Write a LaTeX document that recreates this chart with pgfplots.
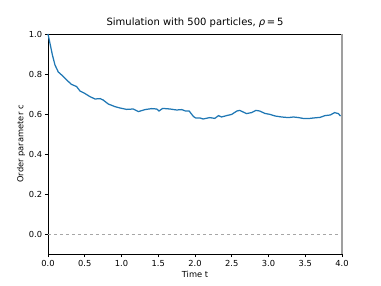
\documentclass[border=0pt]{standalone}
\usepackage{pgfplots}
\pgfplotsset{compat=1.18}
\usepackage{fontspec}
\setmainfont{DejaVu Sans}
\definecolor{mplblue}{HTML}{1F77B4}
\begin{document}
\fontsize{8.3bp}{10bp}\selectfont
\begin{tikzpicture}[x=1bp,y=1bp]
\path[use as bounding box] (-48bp,-32bp) rectangle (333bp,254bp);
\begin{axis}[
  at={(0,0)}, anchor=south west,
  scale only axis, width=294bp, height=220bp,
  xmin=0, xmax=4, ymin=-0.1, ymax=1.0,
  xtick={0,0.5,...,4}, ytick={0,0.2,...,1.0},
  /pgf/number format/assume math mode=true,
  /pgf/number format/fixed, /pgf/number format/fixed zerofill, /pgf/number format/precision=1,
  tick style={black, line width=0.6bp},
  tick align=outside, major tick length=3bp,
  xtick pos=bottom, ytick pos=left,
  axis line style={black, line width=0.6bp},
  tick label style={font=\fontsize{8.3bp}{10bp}\selectfont},
  xlabel={Time t}, ylabel={Order parameter c},
  label style={font=\fontsize{8.3bp}{10bp}\selectfont},
  xlabel style={yshift=1bp},
  ylabel style={yshift=-2bp},
  title={Simulation with 500 particles, {\itshape ρ}\,=\,5},
  title style={font=\fontsize{10bp}{12bp}\selectfont, yshift=-3bp},
  clip=false,
]
\addplot[gray!70, dashed, line width=0.5bp, forget plot] coordinates {(0,0) (4,0)};
\addplot[gray!75, line width=1.6bp, forget plot] coordinates {(4,-0.1) (4,1.0)};
\addplot[mplblue, line width=1.25bp] coordinates {
(0,1.0) (0.027,0.953) (0.06,0.895) (0.095,0.845) (0.14,0.81) (0.186,0.795)
(0.254,0.77) (0.32,0.748) (0.39,0.737) (0.435,0.715) (0.5,0.703) (0.57,0.687)
(0.64,0.675) (0.71,0.677) (0.75,0.67) (0.82,0.65) (0.91,0.637) (0.98,0.63)
(1.07,0.623) (1.16,0.625) (1.23,0.612) (1.32,0.622) (1.41,0.627) (1.48,0.625)
(1.51,0.615) (1.56,0.628) (1.66,0.625) (1.75,0.62) (1.82,0.622) (1.87,0.615)
(1.92,0.615) (1.98,0.587) (2.01,0.58) (2.07,0.58) (2.11,0.575) (2.2,0.582)
(2.27,0.578) (2.32,0.592) (2.36,0.585) (2.43,0.592) (2.5,0.598) (2.57,0.615)
(2.61,0.618) (2.7,0.602) (2.77,0.607) (2.83,0.618) (2.88,0.615) (2.95,0.603)
(3.02,0.598) (3.09,0.59) (3.18,0.585) (3.27,0.582) (3.34,0.585) (3.41,0.582)
(3.47,0.578) (3.54,0.577) (3.61,0.58) (3.7,0.583) (3.77,0.592) (3.84,0.595)
(3.9,0.607) (3.95,0.602) (3.98,0.59)
};
\end{axis}
\end{tikzpicture}
\end{document}
